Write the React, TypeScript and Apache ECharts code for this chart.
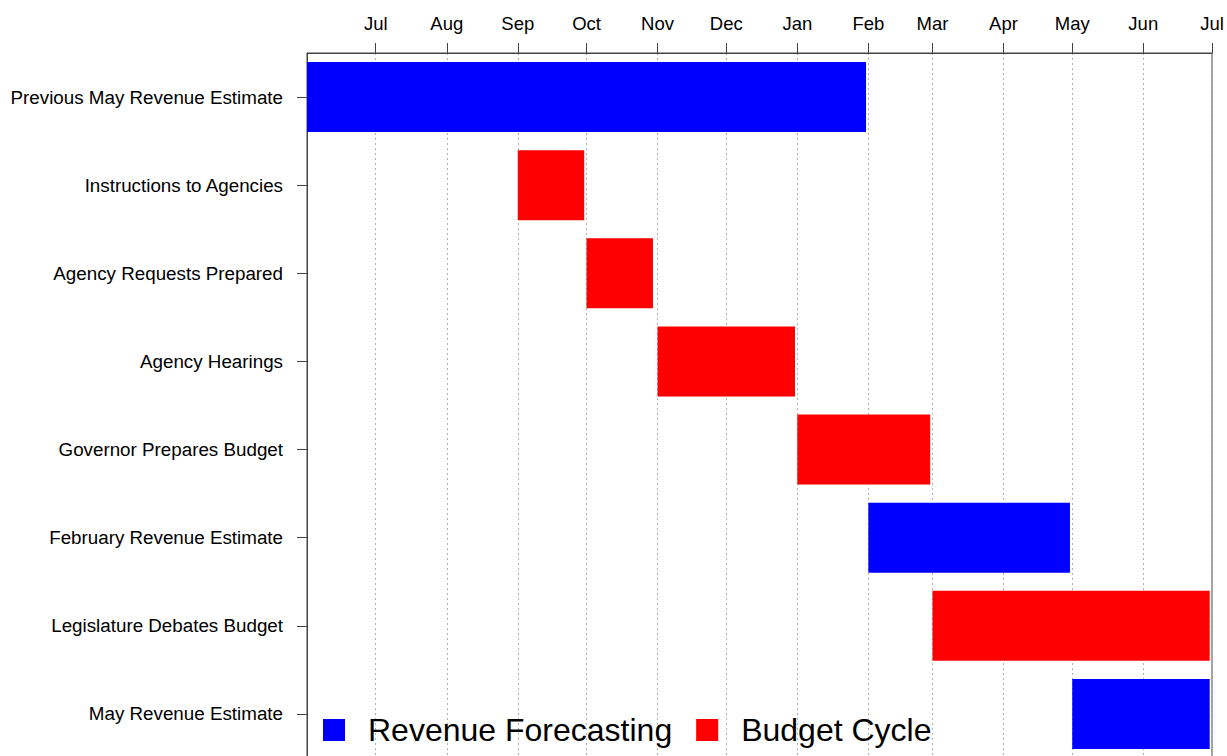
import React, { useEffect, useRef } from "react";
import * as echarts from "echarts";

const categories = [
  "Previous May Revenue Estimate",
  "Instructions to Agencies",
  "Agency Requests Prepared",
  "Agency Hearings",
  "Governor Prepares Budget",
  "February Revenue Estimate",
  "Legislature Debates Budget",
  "May Revenue Estimate",
];
const startDates = [
  "2016-06-01", "2016-09-01", "2016-10-01", "2016-11-01",
  "2017-01-01", "2017-02-01", "2017-03-01", "2017-05-01",
];
const endDates = [
  "2017-01-31", "2016-09-30", "2016-10-30", "2016-12-31",
  "2017-02-28", "2017-04-30", "2017-06-30", "2017-06-30",
];
const phases = [
  "Revenue Forecasting", "Budget Cycle", "Budget Cycle", "Budget Cycle",
  "Budget Cycle", "Revenue Forecasting", "Budget Cycle", "Revenue Forecasting",
];
const seriesNames = ["Revenue Forecasting", "Budget Cycle"];
const seriesColors = ["#0000ff", "#ff0000"];
const tickDates = [
  "2016-07-01", "2016-08-01", "2016-09-01", "2016-10-01", "2016-11-01", "2016-12-01",
  "2017-01-01", "2017-02-01", "2017-03-01", "2017-04-01", "2017-05-01", "2017-06-01", "2017-07-01",
];
const tickLabels = ["Jul", "Aug", "Sep", "Oct", "Nov", "Dec", "Jan", "Feb", "Mar", "Apr", "May", "Jun", "Jul"];
const axisMin = "2016-06-01";
const axisMax = "2017-07-01";

// day number (days since epoch, UTC) for a yyyy-mm-dd string
function toDay(s: string): number {
  const [y, m, d] = s.split("-").map(Number);
  return Math.round(Date.UTC(y, m - 1, d) / 86400000);
}

const FONT = "'Liberation Sans', Arial, sans-serif";

export default function App() {
  const ref = useRef<HTMLDivElement>(null);
  useEffect(() => {
    if (!ref.current) return;
    const chart = echarts.init(ref.current, undefined, { renderer: "svg" });
    const tickValues = tickDates.map(toDay);

    const renderItem = (params: any, api: any) => {
      const cat = api.value(0);
      const s = api.coord([api.value(1), cat]);
      const e = api.coord([api.value(2), cat]);
      const h = api.size([0, 1])[1] * 0.795;
      return {
        type: "rect",
        shape: { x: s[0], y: s[1] - h / 2, width: e[0] - s[0], height: h },
        style: api.style(),
      };
    };

    const series = seriesNames.map((name, si) => ({
      name,
      type: "custom",
      renderItem,
      itemStyle: { color: seriesColors[si] },
      encode: { x: [1, 2], y: 0 },
      data: categories
        .map((c, i) => i)
        .filter((i) => phases[i] === name)
        .map((i) => [i, toDay(startDates[i]), toDay(endDates[i])]),
    }));

    chart.setOption({
      animation: false,
      backgroundColor: "#ffffff",
      textStyle: { fontFamily: FONT },
      grid: {
        left: 307,
        right: 15,
        top: 53,
        bottom: 22,
        show: true,
        borderColor: "#444",
        borderWidth: 1,
        backgroundColor: "transparent",
      },
      legend: {
        left: 318,
        top: 709,
        icon: "rect",
        itemWidth: 22,
        itemHeight: 22,
        itemGap: 24,
        data: seriesNames,
        textStyle: { fontSize: 32, color: "#000", fontFamily: FONT, padding: [0, 0, 0, 18] },
      },
      xAxis: {
        type: "value",
        position: "top",
        min: toDay(axisMin),
        max: toDay(axisMax),
        scale: true,
        axisLine: { show: true, lineStyle: { color: "#444", width: 1 } },
        axisTick: { show: true, length: 10, customValues: tickValues, lineStyle: { color: "#444" } },
        axisLabel: {
          customValues: tickValues,
          margin: 20,
          fontSize: 18.5,
          color: "#000",
          fontFamily: FONT,
          formatter: (v: number) => {
            const idx = tickValues.indexOf(Math.round(v));
            return idx >= 0 ? tickLabels[idx] : "";
          },
        },
        splitLine: { show: true, lineStyle: { color: "#b0b0b0", type: [2, 3], width: 1 } },
      },
      yAxis: {
        type: "category",
        inverse: true,
        data: categories,
        axisLine: { show: true, lineStyle: { color: "#444", width: 1 } },
        axisTick: { show: true, length: 10, alignWithLabel: true, lineStyle: { color: "#444" } },
        axisLabel: { margin: 24, fontSize: 18.8, color: "#000", fontFamily: FONT },
        splitLine: { show: false },
      },
      series,
    });
    return () => chart.dispose();
  }, []);

  return (
    <div
      style={{ position: "absolute", left: 0, top: 0, width: 1227, height: 756, overflow: "hidden", background: "#fff" }}
    >
      <div ref={ref} style={{ width: 1227, height: 780 }} />
    </div>
  );
}
